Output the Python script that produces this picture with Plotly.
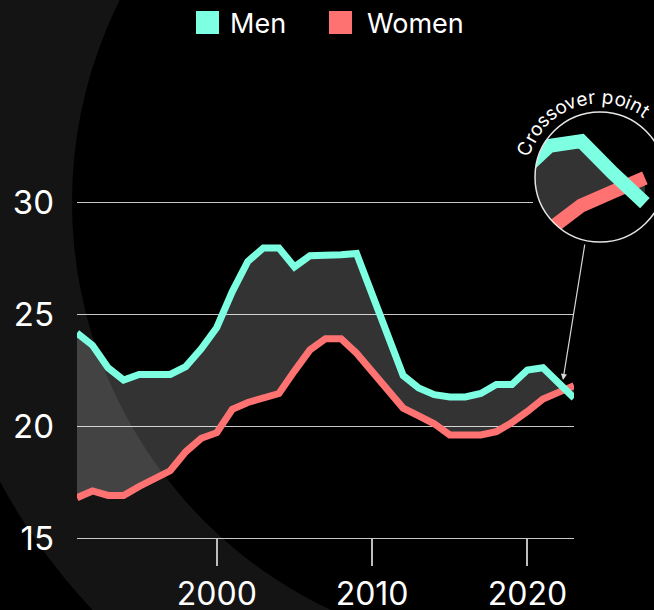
import math
import plotly.graph_objects as go

# ---------------- data ----------------
YEARS = list(range(1991, 2024))
MEN = [24.15, 23.6, 22.6, 22.05, 22.3, 22.28, 22.3, 22.65, 23.45, 24.4,
       26.0, 27.35, 27.95, 27.95, 27.1, 27.6, 27.6, 27.65, 27.7, 25.9,
       24.0, 22.25, 21.7, 21.4, 21.3, 21.3, 21.45, 21.85, 21.85, 22.5,
       22.6, 21.9, 21.25]
WOMEN = [16.8, 17.1, 16.9, 16.9, 17.3, 17.65, 18.0, 18.85, 19.45, 19.7,
         20.75, 21.05, 21.25, 21.45, 22.45, 23.4, 23.9, 23.9, 23.25, 22.4,
         21.6, 20.8, 20.45, 20.1, 19.6, 19.6, 19.6, 19.75, 20.15, 20.65,
         21.2, 21.5, 21.8]
SERIES_NAMES = ["Men", "Women"]
X_TICKS = [2000, 2010, 2020]
X_TICK_TEXT = ["2000", "2010", "2020"]
Y_TICKS = [15, 20, 25, 30]
Y_TICK_TEXT = ["15", "20", "25", "30"]
CALLOUT = "Crossover point"

# ---------------- style / geometry ----------------
W, H = 654, 610
ML, MR, MT, MB = 77, 0, 50, 72
PW = W - ML - MR
PH = H - MT - MB
FONT = "Inter"
MEN_C = "#7DFFE1"
WOMEN_C = "#FF7272"
FILL_C = "rgba(255,255,255,0.2)"
GRID_C = "#c8c8c8"

PLOT_RIGHT_PX = 574
Y_PX_PER_UNIT = 22.4
Y_MIN = 15
X_PX_PER_YEAR = (PLOT_RIGHT_PX - ML) / (YEARS[-1] - YEARS[0])
LENS_SCALE = 2.05
LENS_CX, LENS_CY, LENS_R = 600, 177, 65
LENS_DATA_CENTER_X = 2021.59
LENS_DATA_CENTER_Y = 21.82


def px(x):
    return (x - ML) / PW


def py(y):
    return (H - MB - y) / PH


fig = go.Figure()

# main chart
fig.add_trace(go.Scatter(x=YEARS, y=WOMEN, name=SERIES_NAMES[1], mode="lines",
                         line=dict(color=WOMEN_C, width=7), xaxis="x", yaxis="y",
                         showlegend=False, hoverinfo="skip"))
fig.add_trace(go.Scatter(x=YEARS, y=MEN, name=SERIES_NAMES[0], mode="lines",
                         line=dict(color=MEN_C, width=7), fill="tonexty",
                         fillcolor=FILL_C, xaxis="x", yaxis="y",
                         showlegend=False, hoverinfo="skip"))
# magnified lens
fig.add_trace(go.Scatter(x=YEARS, y=WOMEN, mode="lines",
                         line=dict(color=WOMEN_C, width=14), xaxis="x2", yaxis="y2",
                         showlegend=False, hoverinfo="skip"))
fig.add_trace(go.Scatter(x=YEARS, y=MEN, mode="lines",
                         line=dict(color=MEN_C, width=14), fill="tonexty",
                         fillcolor=FILL_C, xaxis="x2", yaxis="y2",
                         showlegend=False, hoverinfo="skip"))

# lens axis ranges
lx0_px, lx1_px = 533, 654
ly0_px, ly1_px = 244, 110
lppy = X_PX_PER_YEAR * LENS_SCALE
lppu = Y_PX_PER_UNIT * LENS_SCALE
lx_range = [LENS_DATA_CENTER_X + (lx0_px - LENS_CX) / lppy,
            LENS_DATA_CENTER_X + (lx1_px - LENS_CX) / lppy]
ly_range = [LENS_DATA_CENTER_Y - (ly0_px - LENS_CY) / lppu,
            LENS_DATA_CENTER_Y - (ly1_px - LENS_CY) / lppu]

shapes = []
# background ring
RC_X, RC_Y, R_IN, R_OUT = 523, 202, 451, 593
shapes.append(dict(type="circle", xref="paper", yref="paper", layer="below",
                   x0=px(RC_X - R_OUT), x1=px(RC_X + R_OUT),
                   y0=py(RC_Y + R_OUT), y1=py(RC_Y - R_OUT),
                   fillcolor="#141414", line=dict(width=0)))
shapes.append(dict(type="circle", xref="paper", yref="paper", layer="below",
                   x0=px(RC_X - R_IN), x1=px(RC_X + R_IN),
                   y0=py(RC_Y + R_IN), y1=py(RC_Y - R_IN),
                   fillcolor="#000000", line=dict(width=0)))
# lens black background (in lens subplot layer)
shapes.append(dict(type="rect", xref="x2", yref="y2", layer="below",
                   x0=lx_range[0], x1=lx_range[1], y0=ly_range[0], y1=ly_range[1],
                   fillcolor="#000000", line=dict(width=0)))
# mask outside the lens circle
rect = [(lx0_px, ly1_px), (lx1_px, ly1_px), (lx1_px, ly0_px), (lx0_px, ly0_px)]
path = "M" + " L".join(f"{px(a):.5f},{py(b):.5f}" for a, b in rect) + " Z"
pts = []
for i in range(180):
    t = 2 * math.pi * i / 180
    pts.append((LENS_CX + LENS_R * math.cos(t), LENS_CY + LENS_R * math.sin(t)))
path += " M" + " L".join(f"{px(a):.5f},{py(b):.5f}" for a, b in pts) + " Z"
shapes.append(dict(type="path", xref="paper", yref="paper", layer="above",
                   path=path, fillcolor="#000000", fillrule="evenodd",
                   line=dict(width=0)))
shapes.append(dict(type="circle", xref="paper", yref="paper", layer="above",
                   x0=px(LENS_CX - LENS_R), x1=px(LENS_CX + LENS_R),
                   y0=py(LENS_CY + LENS_R), y1=py(LENS_CY - LENS_R),
                   line=dict(color="#e6e6e6", width=1.5)))
# legend squares
for x0, col in [(196, MEN_C), (329, WOMEN_C)]:
    shapes.append(dict(type="rect", xref="paper", yref="paper",
                       x0=px(x0), x1=px(x0 + 23), y0=py(34), y1=py(11),
                       fillcolor=col, line=dict(width=0)))

annotations = []
for x0, name in [(228, SERIES_NAMES[0]), (365, SERIES_NAMES[1])]:
    annotations.append(dict(x=px(x0), y=py(23), xref="paper", yref="paper",
                            text=name, showarrow=False, xanchor="left", yanchor="middle",
                            font=dict(family=FONT, size=27, color="white")))
# pointer arrow
annotations.append(dict(x=px(563), y=py(380), xref="paper", yref="paper", text="",
                        showarrow=True, ax=22, ay=-137, axref="pixel", ayref="pixel",
                        arrowhead=2, arrowsize=1, arrowwidth=1.2, arrowcolor="#d6d6d6",
                        standoff=0))
# curved label
widths = {"C": .72, "r": .39, "o": .58, "s": .5, "v": .54, "e": .56, " ": .28,
          "p": .6, "i": .25, "n": .58, "t": .37}
fsize = 19
track = 1.0
R_TXT = 80
ws = [widths.get(c, .55) * fsize for c in CALLOUT]
total = sum(ws) + track * (len(ws) - 1)
theta_mid = math.radians(108.5)
theta0 = theta_mid + total / (2 * R_TXT)
s = 0
for c, w in zip(CALLOUT, ws):
    sc = s + w / 2
    th = theta0 - sc / R_TXT
    cx = LENS_CX + R_TXT * math.cos(th)
    cy = LENS_CY - R_TXT * math.sin(th)
    if c != " ":
        annotations.append(dict(x=px(cx), y=py(cy), xref="paper", yref="paper",
                                text=c, showarrow=False, xanchor="center", yanchor="middle",
                                textangle=90 - math.degrees(th),
                                font=dict(family=FONT, size=fsize, color="white")))
    s += w + track

fig.update_layout(
    width=W, height=H,
    margin=dict(l=ML, r=MR, t=MT, b=MB, pad=0, autoexpand=False),
    paper_bgcolor="#000000", plot_bgcolor="rgba(0,0,0,0)",
    showlegend=False, hovermode=False,
    font=dict(family=FONT, color="white"),
    xaxis=dict(domain=[0, px(PLOT_RIGHT_PX)], range=[YEARS[0], YEARS[-1]],
               tickvals=X_TICKS, ticktext=X_TICK_TEXT, ticks="outside", ticklen=27,
               tickwidth=1.5, tickcolor="#bdbdbd", showgrid=False, zeroline=False,
               showline=True, linecolor=GRID_C, linewidth=1.2,
               ticklabelstandoff=0, automargin=False,
               tickfont=dict(family=FONT, size=32, color="white")),
    yaxis=dict(domain=[0, 1], range=[Y_MIN, Y_MIN + PH / Y_PX_PER_UNIT],
               tickvals=Y_TICKS, ticktext=Y_TICK_TEXT, ticks="", showgrid=True,
               gridcolor=GRID_C, gridwidth=1.2, zeroline=False, showline=False,
               ticklabelstandoff=22, automargin=False,
               tickfont=dict(family=FONT, size=33, color="white")),
    xaxis2=dict(domain=[px(lx0_px), px(lx1_px)], range=lx_range, visible=False,
                anchor="y2"),
    yaxis2=dict(domain=[py(ly0_px), py(ly1_px)], range=ly_range, visible=False,
                anchor="x2"),
    shapes=shapes, annotations=annotations,
)

fig.write_html("out.html", config={"displayModeBar": False},
               post_script="document.body.style.margin='0';document.body.style.overflow='hidden';document.body.style.background='#000';")
